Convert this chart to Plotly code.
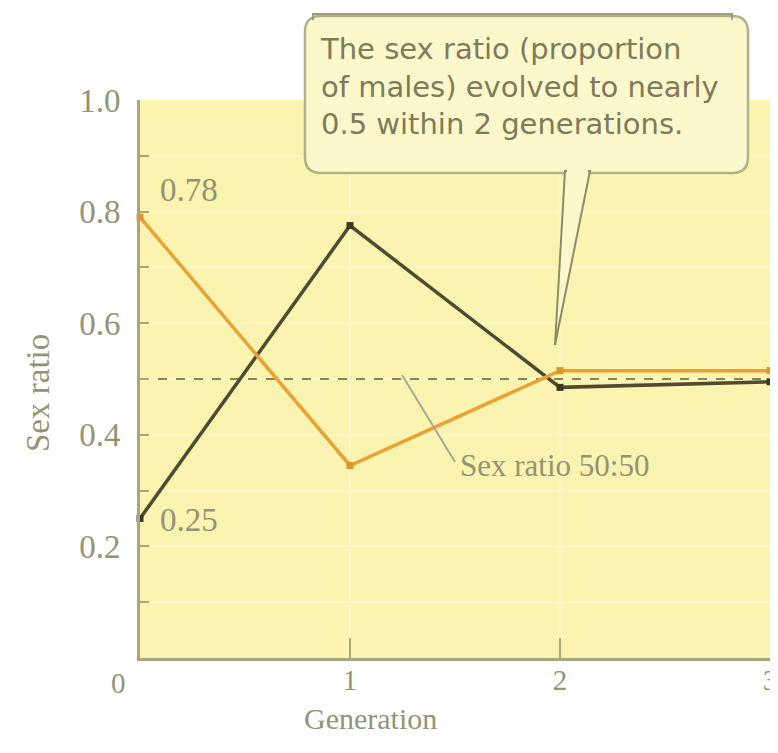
import plotly.graph_objects as go

generations = [0, 1, 2, 3]
population_a = [0.79, 0.345, 0.515, 0.515]   # orange
population_b = [0.25, 0.775, 0.485, 0.495]   # dark
even_ratio = 0.5
y_ticks = [0.1, 0.2, 0.3, 0.4, 0.5, 0.6, 0.7, 0.8, 0.9, 1.0]
y_ticktext = ["", "0.2", "", "0.4", "", "0.6", "", "0.8", "", "1.0"]
x_ticks = [1, 2, 3]
x_ticktext = ["1", "2", "3"]
callout_text = "The sex ratio (proportion<br>of males) evolved to nearly<br>0.5 within 2 generations."

AX = "#aaa57c"
TXT = "#949474"
BG = "#fbf3b0"
BOX = "#fcf8cc"

OFF = 8  # page body margin
PAGE_W, PAGE_H = 778, 753
# desired plot area in page pixels
PL, PR, PT, PB = 140, 770, 100, 658
FIG_W, FIG_H = PAGE_W - OFF, PAGE_H - OFF
L = PL - OFF
T = PT - OFF
R = FIG_W - (PR - OFF)
B = FIG_H - (PB - OFF)
W, H = PR - PL, PB - PT

def px(x):
    return (x - PL) / W

def py(y):
    return (PB - y) / H

fig = go.Figure()

fig.add_trace(go.Scatter(
    x=[generations[0], generations[-1]], y=[even_ratio, even_ratio], mode="lines",
    line=dict(color="#85835a", width=2, dash="dash"), hoverinfo="skip", showlegend=False))

fig.add_trace(go.Scatter(
    x=generations, y=population_b, mode="lines+markers",
    line=dict(color="#4d4b30", width=3.5),
    marker=dict(symbol="square", size=7, color="#3c3a25"),
    cliponaxis=False, showlegend=False))

fig.add_trace(go.Scatter(
    x=generations, y=population_a, mode="lines+markers",
    line=dict(color="#eba235", width=3.5),
    marker=dict(symbol="square", size=7, color="#e39528"),
    cliponaxis=False, showlegend=False))

shapes = []
# callout box (rounded rectangle)
x0, x1, y0, y1 = 305, 748, 16, 173
r = 16
rx, ry = r / W, r / H
path = (f"M {px(x0)+rx},{py(y0)} L {px(x1)-rx},{py(y0)} "
        f"Q {px(x1)},{py(y0)} {px(x1)},{py(y0)-ry} "
        f"L {px(x1)},{py(y1)+ry} Q {px(x1)},{py(y1)} {px(x1)-rx},{py(y1)} "
        f"L {px(x0)+rx},{py(y1)} Q {px(x0)},{py(y1)} {px(x0)},{py(y1)+ry} "
        f"L {px(x0)},{py(y0)-ry} Q {px(x0)},{py(y0)} {px(x0)+rx},{py(y0)} Z")
shapes.append(dict(type="path", xref="paper", yref="paper", path=path,
                   fillcolor=BOX, line=dict(color="#b4b08a", width=2.5), layer="above"))
# tail
tail = f"M {px(565)},{py(171)} L {px(555)},{py(345)} L {px(590)},{py(171)} Z"
shapes.append(dict(type="path", xref="paper", yref="paper", path=tail,
                   fillcolor=BOX, line=dict(color="#8e8c66", width=2), layer="above"))
shapes.append(dict(type="line", xref="paper", yref="paper",
                   x0=px(567), x1=px(588), y0=py(172), y1=py(172),
                   line=dict(color=BOX, width=4), layer="above"))
# top bracket
shapes.append(dict(type="path", xref="paper", yref="paper",
                   path=f"M {px(313)},{py(20)} L {px(313)},{py(14)} L {px(732)},{py(14)} L {px(732)},{py(20)}",
                   line=dict(color="#9e9c84", width=2), layer="above"))
# leader for 50:50 label
shapes.append(dict(type="line", xref="paper", yref="paper",
                   x0=px(402), y0=py(375), x1=px(455), y1=py(462),
                   line=dict(color="#a9a890", width=2), layer="above"))

annotations = [
    dict(xref="paper", yref="paper", x=px(318), y=py(87), xanchor="left", yanchor="middle",
         text=callout_text, showarrow=False, align="left",
         font=dict(family="DejaVu Sans", size=29, color="#7d7b58")),
    dict(xref="paper", yref="paper", x=px(158), y=py(190), xanchor="left", yanchor="middle",
         text="0.78", showarrow=False, font=dict(family="Liberation Serif", size=33, color=TXT)),
    dict(xref="paper", yref="paper", x=px(158), y=py(520), xanchor="left", yanchor="middle",
         text="0.25", showarrow=False, font=dict(family="Liberation Serif", size=33, color=TXT)),
    dict(xref="paper", yref="paper", x=px(458), y=py(465), xanchor="left", yanchor="middle",
         text="Sex ratio 50:50", showarrow=False,
         font=dict(family="Liberation Serif", size=31, color=TXT)),
    dict(xref="paper", yref="paper", x=px(118), y=py(683), xanchor="center", yanchor="middle",
         text="0", showarrow=False, font=dict(family="Liberation Serif", size=29, color=TXT)),
    dict(xref="paper", yref="paper", x=px(38), y=py(393), xanchor="center", yanchor="middle",
         text="Sex ratio", textangle=-90, showarrow=False,
         font=dict(family="Liberation Serif", size=33, color=TXT)),
    dict(xref="paper", yref="paper", x=px(370), y=py(718), xanchor="center", yanchor="middle",
         text="Generation", showarrow=False,
         font=dict(family="Liberation Serif", size=30, color=TXT)),
]

fig.update_layout(
    width=FIG_W, height=FIG_H,
    margin=dict(l=L, r=R, t=T, b=B, autoexpand=False),
    paper_bgcolor="white", plot_bgcolor=BG,
    shapes=shapes, annotations=annotations,
    font=dict(family="Liberation Serif", color=TXT),
    xaxis=dict(range=[0, 3], tickmode="array", tickvals=x_ticks, ticktext=x_ticktext,
               ticks="inside", ticklen=20, tickwidth=2, tickcolor=AX,
               showline=True, linecolor=AX, linewidth=3, zeroline=False,
               showgrid=True, gridcolor="#fcf6c4", gridwidth=2,
               tickfont=dict(size=29, color=TXT), ticklabelstandoff=-6),
    yaxis=dict(range=[0, 1.0], tickmode="array", tickvals=y_ticks, ticktext=y_ticktext,
               ticks="inside", ticklen=9, tickwidth=2, tickcolor=AX,
               showline=True, linecolor=AX, linewidth=3, zeroline=False,
               showgrid=True, gridcolor="#fcf6c4", gridwidth=2,
               tickfont=dict(size=33, color=TXT), ticklabelstandoff=10),
)

fig.write_html("out.html")
